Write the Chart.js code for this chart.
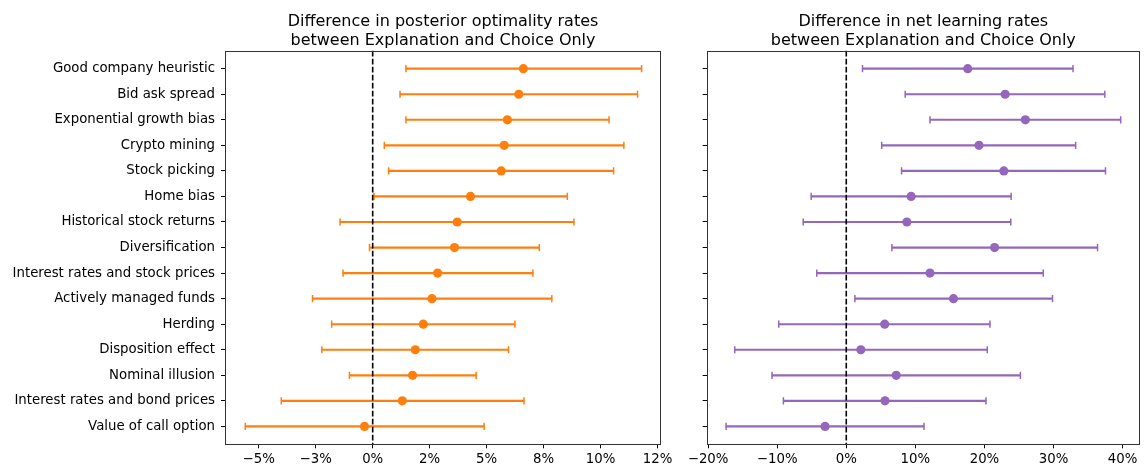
<!DOCTYPE html>
<html>
<head>
<meta charset="utf-8">
<script src="https://cdn.jsdelivr.net/npm/chart.js@4.4.1/dist/chart.umd.min.js"></script>
<style>
  html, body { margin:0; padding:0; background:#fff; width:1145px; height:468px; overflow:hidden; }
  .box { position:absolute; top:0; height:468px; }
  #b1 { left:0; width:680px; }
  #b2 { left:680px; width:465px; }
</style>
</head>
<body>
<div class="box" id="b1"><canvas id="c1"></canvas></div>
<div class="box" id="b2"><canvas id="c2"></canvas></div>
<script>
// ---- data (percent) ----
const categories = [
  "Good company heuristic", "Bid ask spread", "Exponential growth bias", "Crypto mining",
  "Stock picking", "Home bias", "Historical stock returns", "Diversification",
  "Interest rates and stock prices", "Actively managed funds", "Herding",
  "Disposition effect", "Nominal illusion", "Interest rates and bond prices", "Value of call option"
];
const optimalityDiff = [6.61, 6.41, 5.91, 5.77, 5.64, 4.29, 3.71, 3.59, 2.85, 2.60, 2.22, 1.87, 1.75, 1.30, -0.36];
const optimalityLow  = [1.46, 1.20, 1.46, 0.51, 0.70, 0.06, -1.43, -0.14, -1.30, -2.64, -1.80, -2.23, -1.02, -4.01, -5.59];
const optimalityHigh = [11.80, 11.62, 10.37, 11.02, 10.57, 8.54, 8.83, 7.31, 7.03, 7.86, 6.24, 5.96, 4.54, 6.64, 4.89];

const learningDiff = [17.58, 23.0, 25.92, 19.21, 22.81, 9.39, 8.77, 21.47, 12.12, 15.52, 5.56, 2.11, 7.23, 5.61, -3.06];
const learningLow  = [2.35, 8.53, 12.12, 5.13, 8.0, -5.08, -6.23, 6.61, -4.27, 1.25, -9.77, -16.14, -10.74, -9.10, -17.39];
const learningHigh = [32.82, 37.42, 39.72, 33.20, 37.52, 23.86, 23.81, 36.37, 28.51, 29.85, 20.80, 20.41, 25.20, 20.22, 11.25];

const leftTickValues = [-5, -2.5, 0, 2.5, 5, 7.5, 10, 12.5];
const leftTickLabels = ["\u22125%", "\u22123%", "0%", "2%", "5%", "8%", "10%", "12%"];
const rightTickValues = [-20, -10, 0, 10, 20, 30, 40];
const rightTickLabels = ["\u221220%", "\u221210%", "0%", "10%", "20%", "30%", "40%"];

const leftTitle = ["Difference in posterior optimality rates", "between Explanation and Choice Only"];
const rightTitle = ["Difference in net learning rates", "between Explanation and Choice Only"];

// ---- helpers ----
const FONT = "'DejaVu Sans', sans-serif";

const framePlugin = {
  id: 'frame',
  afterDatasetsDraw(chart) {
    const {ctx, chartArea: a, scales} = chart;
    const x0 = scales.x.getPixelForValue(0);
    ctx.save();
    ctx.strokeStyle = '#000';
    ctx.lineWidth = 1.6;
    ctx.setLineDash([5.6, 2.4]);
    ctx.beginPath();
    ctx.moveTo(x0, a.top);
    ctx.lineTo(x0, a.bottom);
    ctx.stroke();
    ctx.restore();
  },
  afterDraw(chart) {
    const {ctx, chartArea: a} = chart;
    ctx.save();
    ctx.strokeStyle = '#333';
    ctx.lineWidth = 1;
    ctx.strokeRect(Math.round(a.left) + 0.5, Math.round(a.top) + 0.5,
                   Math.round(a.right - a.left) - 1, Math.round(a.bottom - a.top) - 1);
    ctx.restore();
  }
};

function makeChart(canvasId, cfg) {
  const idx = categories.map((_, i) => i);
  const color = cfg.color;
  return new Chart(document.getElementById(canvasId), {
    type: 'bar',
    data: {
      datasets: [
        {
          type: 'scatter',
          data: idx.map(i => ({x: cfg.mid[i], y: i})),
          backgroundColor: color, borderColor: color,
          pointRadius: 4.6, pointHoverRadius: 4.6, borderWidth: 0
        },
        {
          type: 'scatter',
          data: idx.map(i => ({x: cfg.low[i], y: i})),
          pointStyle: 'line', rotation: 90,
          borderColor: color, borderWidth: 1.5,
          pointRadius: 3.6, pointHoverRadius: 3.6
        },
        {
          type: 'scatter',
          data: idx.map(i => ({x: cfg.high[i], y: i})),
          pointStyle: 'line', rotation: 90,
          borderColor: color, borderWidth: 1.5,
          pointRadius: 3.6, pointHoverRadius: 3.6
        },
        {
          type: 'bar',
          data: idx.map(i => ({x: [cfg.low[i], cfg.high[i]], y: i})),
          backgroundColor: color,
          barThickness: 1.5,
          borderWidth: 0,
          borderSkipped: false
        }
      ]
    },
    options: {
      indexAxis: 'y',
      responsive: true,
      maintainAspectRatio: false,
      animation: false,
      events: [],
      layout: { padding: cfg.padding },
      plugins: {
        legend: { display: false },
        tooltip: { enabled: false },
        title: {
          display: true,
          fullSize: false,
          text: cfg.title,
          color: '#000',
          font: { family: FONT, size: 16, weight: 'normal', lineHeight: 1.15 },
          padding: { top: 13, bottom: 1 }
        }
      },
      scales: {
        x: {
          type: 'linear',
          min: cfg.xmin, max: cfg.xmax,
          offset: false,
          border: { display: false },
          grid: { display: true, offset: false, drawOnChartArea: false, drawTicks: true, tickLength: 4, color: '#000', lineWidth: 1 },
          afterBuildTicks: s => { s.ticks = cfg.tickValues.map(v => ({value: v})); },
          afterFit: s => { s.height = 23.7; },
          ticks: {
            autoSkip: false, maxRotation: 0, minRotation: 0,
            color: '#000', padding: 3,
            font: { family: FONT, size: 13.3 },
            callback: (v, i) => cfg.tickLabels[i]
          }
        },
        y: {
          type: 'linear',
          min: -0.7, max: 14.7,
          reverse: true,
          offset: false,
          border: { display: false },
          grid: { display: true, offset: false, drawOnChartArea: false, drawTicks: true, tickLength: 4, color: '#000', lineWidth: 1 },
          afterBuildTicks: s => { s.ticks = idx.map(v => ({value: v})); },
          afterFit: s => { s.width = cfg.yWidth; },
          ticks: {
            autoSkip: false,
            color: '#000', padding: 6,
            font: { family: FONT, size: 13.3 },
            callback: (v, i) => cfg.showLabels ? categories[i] : ''
          }
        }
      }
    },
    plugins: [framePlugin]
  });
}

makeChart('c1', {
  mid: optimalityDiff, low: optimalityLow, high: optimalityHigh,
  color: '#ff7f0e', title: leftTitle,
  xmin: -6.48, xmax: 12.65,
  tickValues: leftTickValues, tickLabels: leftTickLabels,
  yWidth: 225, showLabels: true,
  padding: { left: 0, right: 19, top: 0, bottom: 0 }
});

makeChart('c2', {
  mid: learningDiff, low: learningLow, high: learningHigh,
  color: '#9467bd', title: rightTitle,
  xmin: -20.2, xmax: 42.5,
  tickValues: rightTickValues, tickLabels: rightTickLabels,
  yWidth: 26.7, showLabels: false,
  padding: { left: 0, right: 2, top: 0, bottom: 0 }
});
</script>
</body>
</html>
